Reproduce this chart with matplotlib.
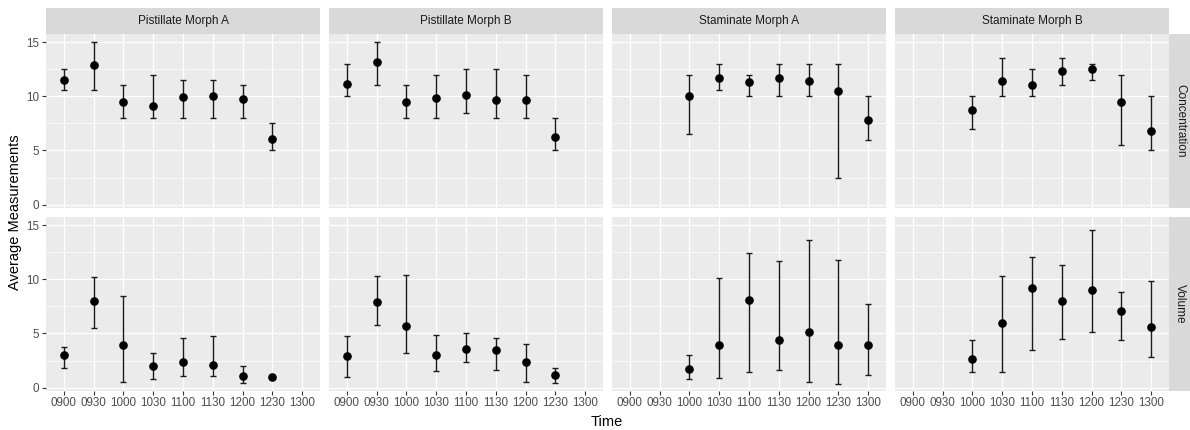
"""
Faceted point + error bar chart: average measurements by time, morph and measure
"""

import numpy as np
import matplotlib.pyplot as plt

plt.rcParams.update({
    'font.family': ['Liberation Sans', 'DejaVu Sans'],
})

nan = np.nan

times = ['0900', '0930', '1000', '1030', '1100', '1130', '1200', '1230', '1300']
morphs = ['Pistillate Morph A', 'Pistillate Morph B', 'Staminate Morph A', 'Staminate Morph B']
measures = ['Concentration', 'Volume']

# Concentration: mean, lower, upper
conc_mean_pa = [11.5, 12.9, 9.5, 9.1, 9.9, 10.0, 9.75, 6.1, nan]
conc_lo_pa = [10.55, 10.55, 8.0, 8.0, 8.0, 8.0, 8.0, 5.0, nan]
conc_hi_pa = [12.5, 15.0, 11.0, 12.0, 11.5, 11.5, 11.0, 7.5, nan]

conc_mean_pb = [11.15, 13.15, 9.45, 9.8, 10.1, 9.7, 9.65, 6.2, nan]
conc_lo_pb = [10.0, 11.0, 8.0, 8.0, 8.5, 8.0, 8.0, 5.0, nan]
conc_hi_pb = [13.0, 15.0, 11.0, 12.0, 12.5, 12.5, 12.0, 8.0, nan]

conc_mean_sa = [nan, nan, 10.05, 11.7, 11.3, 11.7, 11.4, 10.45, 7.85]
conc_lo_sa = [nan, nan, 6.5, 10.55, 10.0, 10.0, 10.0, 2.45, 5.95]
conc_hi_sa = [nan, nan, 12.0, 13.0, 12.0, 13.0, 13.0, 13.0, 10.0]

conc_mean_sb = [nan, nan, 8.7, 11.4, 11.05, 12.35, 12.5, 9.5, 6.8]
conc_lo_sb = [nan, nan, 7.0, 10.0, 10.0, 11.0, 11.5, 5.5, 5.0]
conc_hi_sb = [nan, nan, 10.0, 13.5, 12.5, 13.5, 13.0, 12.0, 10.0]

# Volume: mean, lower, upper
vol_mean_pa = [2.97, 7.97, 3.93, 2.02, 2.36, 2.12, 1.07, 0.95, nan]
vol_lo_pa = [1.8, 5.5, 0.55, 0.8, 1.05, 1.05, 0.45, 0.75, nan]
vol_hi_pa = [3.75, 10.2, 8.5, 3.2, 4.55, 4.8, 1.95, 1.2, nan]

vol_mean_pb = [2.9, 7.9, 5.73, 2.97, 3.55, 3.47, 2.36, 1.2, nan]
vol_lo_pb = [1.0, 5.8, 3.2, 1.5, 2.35, 1.6, 0.55, 0.45, nan]
vol_hi_pb = [4.8, 10.3, 10.4, 4.9, 5.05, 4.55, 4.0, 1.85, nan]

vol_mean_sa = [nan, nan, 1.75, 3.93, 8.07, 4.42, 5.12, 3.93, 3.93]
vol_lo_sa = [nan, nan, 0.75, 0.85, 1.45, 1.6, 0.55, 0.35, 1.15]
vol_hi_sa = [nan, nan, 3.05, 10.15, 12.45, 11.7, 13.6, 11.8, 7.7]

vol_mean_sb = [nan, nan, 2.67, 5.95, 9.17, 7.97, 9.02, 7.11, 5.55]
vol_lo_sb = [nan, nan, 1.45, 1.45, 3.47, 4.48, 5.1, 4.4, 2.82]
vol_hi_sb = [nan, nan, 4.4, 10.33, 12.08, 11.3, 14.55, 8.86, 9.87]

data = {
    ('Concentration', 0): (conc_mean_pa, conc_lo_pa, conc_hi_pa),
    ('Concentration', 1): (conc_mean_pb, conc_lo_pb, conc_hi_pb),
    ('Concentration', 2): (conc_mean_sa, conc_lo_sa, conc_hi_sa),
    ('Concentration', 3): (conc_mean_sb, conc_lo_sb, conc_hi_sb),
    ('Volume', 0): (vol_mean_pa, vol_lo_pa, vol_hi_pa),
    ('Volume', 1): (vol_mean_pb, vol_lo_pb, vol_hi_pb),
    ('Volume', 2): (vol_mean_sa, vol_lo_sa, vol_hi_sa),
    ('Volume', 3): (vol_mean_sb, vol_lo_sb, vol_hi_sb),
}

W, H = 1190, 430
fig = plt.figure(figsize=(W / 100, H / 100), dpi=100)


def px_axes(x0, y0, x1, y1):
    """Add axes given pixel box (top-left origin)"""
    return fig.add_axes([x0 / W, 1 - y1 / H, (x1 - x0) / W, (y1 - y0) / H])


col_left = [46, 329, 612, 895]
panel_w = 274
row_top = [34, 217]
panel_h = 173.5
strip_top = 8
strip_w = 22

x = np.arange(len(times))

for r, measure in enumerate(measures):
    for c, morph in enumerate(morphs):
        x0 = col_left[c]
        y0 = row_top[r]
        ax = px_axes(x0, y0, x0 + panel_w, y0 + panel_h)
        ax.set_facecolor('#EBEBEB')
        for s in ax.spines.values():
            s.set_visible(False)
        ax.set_xlim(-0.6, len(times) - 0.4)
        ax.set_ylim(-0.27, 15.75)
        ax.set_yticks([0, 5, 10, 15])
        ax.set_yticks([2.5, 7.5, 12.5], minor=True)
        ax.set_xticks(x)
        ax.grid(True, which='major', color='white', linewidth=1.0)
        ax.grid(True, which='minor', axis='y', color='white', linewidth=0.5)
        ax.set_axisbelow(True)
        ax.tick_params(which='minor', length=0)
        ax.tick_params(which='major', length=3, width=0.8, color='#333333',
                       labelsize=8.4, labelcolor='#4D4D4D', pad=2)

        if c == 0:
            ax.set_yticklabels(['0', '5', '10', '15'])
        else:
            ax.tick_params(axis='y', length=0, labelleft=False)
        if r == 1:
            ax.set_xticklabels(times)
        else:
            ax.tick_params(axis='x', length=0, labelbottom=False)

        mean, lo, hi = data[(measure, c)]
        mean = np.array(mean)
        lo = np.array(lo)
        hi = np.array(hi)
        yerr = np.vstack([mean - lo, hi - mean])
        ax.errorbar(x, mean, yerr=yerr, fmt='o', color='black', ecolor='#1A1A1A',
                    elinewidth=1.0, capsize=2.4, capthick=1.0, markersize=5.2,
                    zorder=3)

        # top strip
        if r == 0:
            sax = px_axes(x0, strip_top, x0 + panel_w, y0)
            sax.set_facecolor('#D9D9D9')
            sax.set_xticks([])
            sax.set_yticks([])
            for s in sax.spines.values():
                s.set_visible(False)
            sax.text(0.5, 0.5, morph, ha='center', va='center', fontsize=8.5,
                     color='#1A1A1A', transform=sax.transAxes)

    # right strip
    rx0 = col_left[-1] + panel_w
    rax = px_axes(rx0, row_top[r], rx0 + strip_w, row_top[r] + panel_h)
    rax.set_facecolor('#D9D9D9')
    rax.set_xticks([])
    rax.set_yticks([])
    for s in rax.spines.values():
        s.set_visible(False)
    rax.text(0.5, 0.5, measure, ha='center', va='center', rotation=-90,
             fontsize=8.5, color='#1A1A1A', transform=rax.transAxes)

fig.text(607 / W, 1 - 422 / H, 'Time', ha='center', va='center', fontsize=10.5,
         color='black')
fig.text(15 / W, 1 - 212 / H, 'Average Measurements', ha='center', va='center',
         rotation=90, fontsize=10.5, color='black')

fig.savefig('out.png', dpi=100, facecolor='white')
